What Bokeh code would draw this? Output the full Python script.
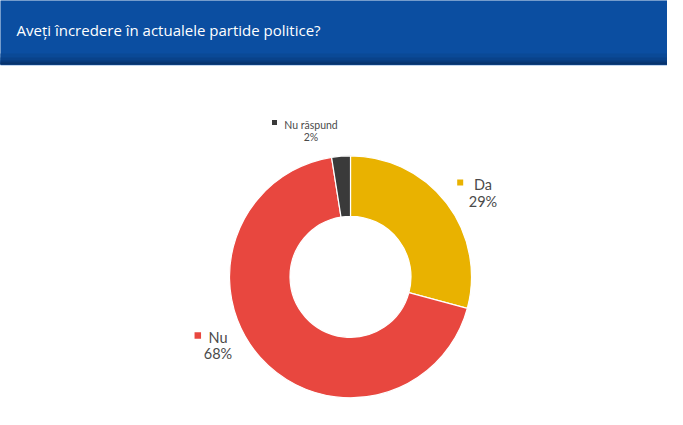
import math
from bokeh.plotting import figure
from bokeh.models import Range1d
from bokeh.core.properties import value
from bokeh.embed import file_html
from bokeh.resources import INLINE

# ---- data ----
title_text = "Aveți încredere în actualele partide politice?"
categories = ["Da", "Nu", "Nu răspund"]
shares = [29.2, 68.3, 2.5]
pct_labels = ["29%", "68%", "2%"]
colors = ["#e9b200", "#e8473f", "#3a3a3a"]

# ---- layout ----
FW, FH = 667, 409
def Y(y_abs):
    return FH - y_abs

p = figure(width=FW, height=FH, output_backend="svg",
           toolbar_location=None, x_axis_type=None, y_axis_type=None,
           x_range=Range1d(0, FW), y_range=Range1d(0, FH),
           min_border=0, outline_line_color=None,
           background_fill_color="white", border_fill_color="white")
p.grid.visible = False

# title bar with a darker lower edge (stacked so no seams)
bar_bottom = 64
p.quad(left=[-5], right=[FW + 5], top=[Y(-5)], bottom=[Y(bar_bottom + 1.5)],
       fill_color="#c3d7f0", line_color=None)
bands = [(-5, "#0b4ea1"), (53, "#0a4996"), (57, "#09428a"),
         (60, "#083a7c"), (62, "#07336c")]
p.quad(left=[-5] * len(bands), right=[FW + 5] * len(bands),
       top=[Y(b[0]) for b in bands], bottom=[Y(bar_bottom)] * len(bands),
       fill_color=[b[1] for b in bands], line_color=None)
p.text(x=[16], y=[Y(29)], text=[title_text], text_color="white",
       text_font=value("Open Sans"), text_font_size="15px",
       text_align="left", text_baseline="middle")

# donut
cx, cy = 350, 276.3
R_out, R_in = 121, 60.5
total = sum(shares)
starts, ends = [], []
acc = 0.0
for s in shares:
    starts.append(math.pi / 2 - 2 * math.pi * acc / total)
    acc += s
    ends.append(math.pi / 2 - 2 * math.pi * acc / total)
p.annular_wedge(x=[cx] * 3, y=[Y(cy)] * 3, inner_radius=R_in, outer_radius=R_out,
                start_angle=starts, end_angle=ends, direction="clock",
                fill_color=colors, line_color="white", line_width=1.2)

# labels: (square x, square y, square size, text center x, line1 y, line2 y, font size)
lab_pos = [
    (459.7, 182.0, 6, 482.5, 184.0, 200.7, "14.5px"),
    (197.3, 335.0, 6.5, 217.5, 336.7, 352.7, "14.5px"),
    (274.0, 122.0, 5, 310.5, 124.0, 136.0, "10.5px"),
]
for i, (sx, sy, ss, tx, y1, y2, fs) in enumerate(lab_pos):
    p.scatter(x=[sx], y=[Y(sy)], marker="square", size=ss,
              fill_color=colors[i], line_color=None)
    p.text(x=[tx, tx], y=[Y(y1), Y(y2)], text=[categories[i], pct_labels[i]],
           text_color="#4a4a4a", text_font=value("Lato"), text_font_size=fs,
           text_align="center", text_baseline="middle")

open("out.html", "w").write(file_html(p, INLINE))
